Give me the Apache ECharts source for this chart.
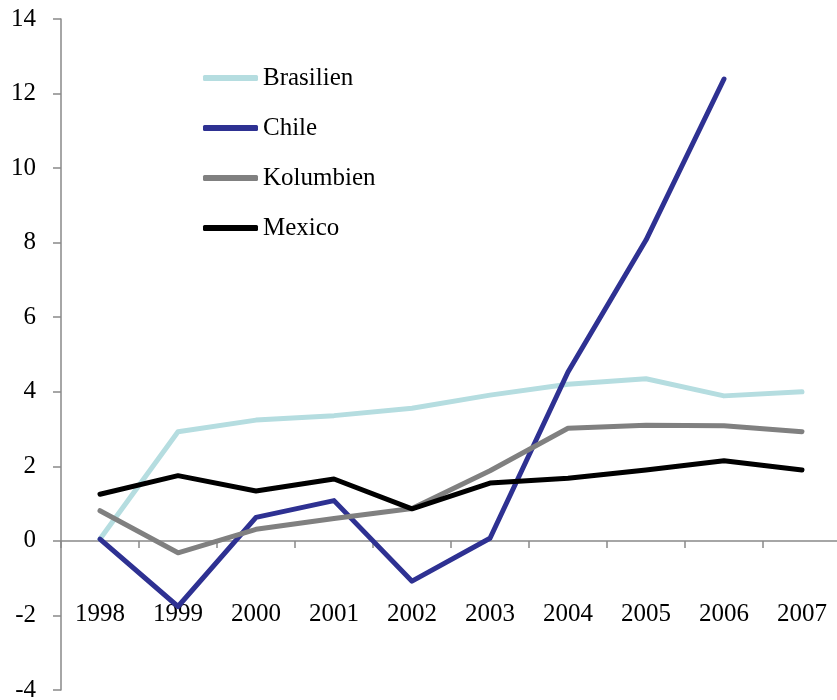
<!DOCTYPE html>
<html>
<head>
<meta charset="utf-8">
<script src="https://cdn.jsdelivr.net/npm/echarts@6/dist/echarts.min.js"></script>
<style>html,body{margin:0;padding:0;background:#fff}#c{width:837px;height:700px}</style>
</head>
<body>
<div id="c"></div>
<script>
const years = ['1998','1999','2000','2001','2002','2003','2004','2005','2006','2007'];
const brasilien = [0.05, 2.93, 3.24, 3.36, 3.56, 3.91, 4.2, 4.35, 3.89, 4.0];
const chile = [0.05, -1.76, 0.63, 1.08, -1.08, 0.07, 4.53, 8.07, 12.39, null];
const kolumbien = [0.81, -0.32, 0.31, 0.6, 0.87, 1.88, 3.02, 3.1, 3.09, 2.93];
const mexico = [1.25, 1.75, 1.34, 1.66, 0.86, 1.55, 1.68, 1.9, 2.15, 1.9];
const yTicks = { min: -4, max: 14, interval: 2 };

const font = 'Liberation Serif';
const chart = echarts.init(document.getElementById('c'), null, { renderer: 'canvas' });
function mk(name, data, color) {
  return { name, type: 'line', data, symbol: 'none', connectNulls: false,
    lineStyle: { color, width: 5, cap: 'round', join: 'round' }, itemStyle: { color } };
}
chart.setOption({
  animation: false,
  backgroundColor: '#fff',
  grid: { left: 61, right: -4, top: 19, bottom: 10, containLabel: false, outerBoundsMode: 'none' },
  legend: {
    orient: 'vertical', left: 198, top: 58, itemWidth: 55, itemHeight: 6, itemGap: 20,
    icon: 'roundRect',
    textStyle: { fontFamily: font, fontSize: 25, color: '#000', lineHeight: 30 },
    data: ['Brasilien', 'Chile', 'Kolumbien', 'Mexico']
  },
  xAxis: {
    type: 'category', data: years, boundaryGap: true,
    axisLine: { onZero: true, lineStyle: { color: '#898989', width: 1.5 } },
    axisTick: { show: true, length: 7, lineStyle: { color: '#898989', width: 1.5 } },
    axisLabel: { margin: -88, fontFamily: font, fontSize: 25, color: '#000', hideOverlap: false },
    splitLine: { show: false }
  },
  yAxis: {
    type: 'value', min: yTicks.min, max: yTicks.max, interval: yTicks.interval,
    axisLine: { show: true, lineStyle: { color: '#898989', width: 1.5 } },
    axisTick: { show: true, length: 8, lineStyle: { color: '#898989', width: 1.5 } },
    axisLabel: { margin: 25, fontFamily: font, fontSize: 25, color: '#000' },
    splitLine: { show: false }
  },
  series: [
    mk('Brasilien', brasilien, '#b5dde0'),
    mk('Chile', chile, '#2e3192'),
    mk('Kolumbien', kolumbien, '#808080'),
    mk('Mexico', mexico, '#000000')
  ]
});
</script>
</body>
</html>
